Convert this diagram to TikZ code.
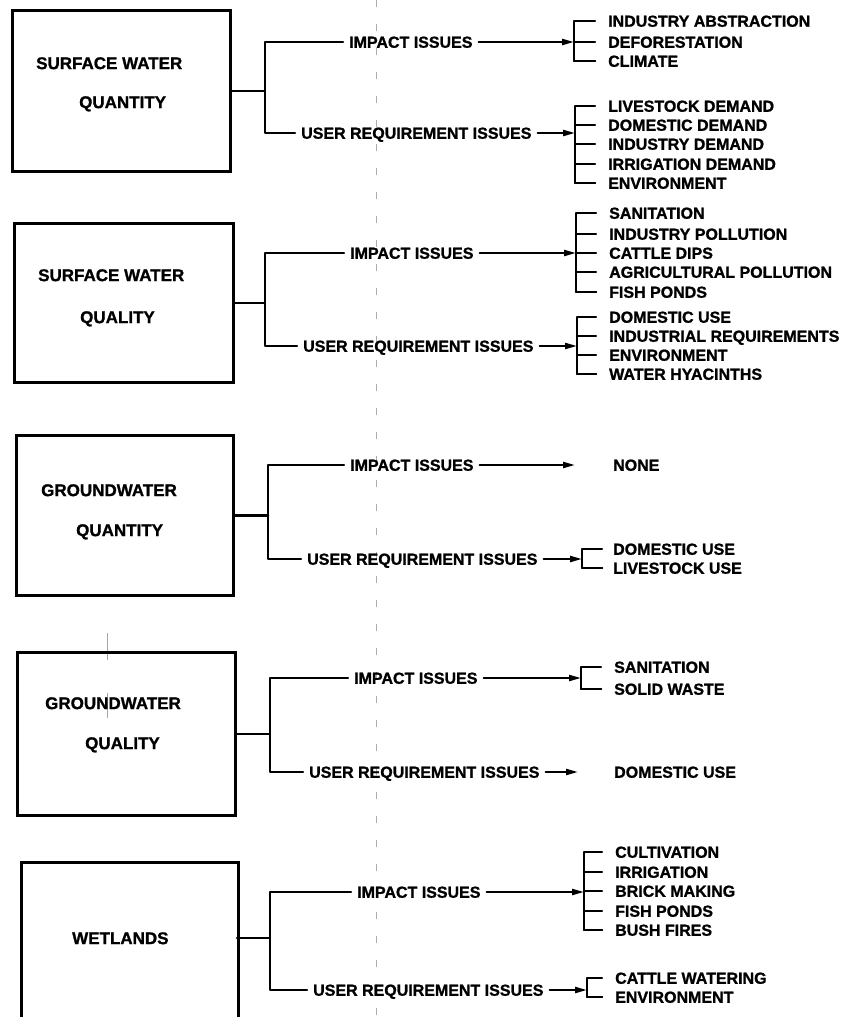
\documentclass[tikz,border=0pt]{standalone}
\usepackage{fontspec}
\setmainfont{Liberation Sans}[BoldFeatures={FakeBold=1.2}]
\usetikzlibrary{arrows.meta}

% spine of an item list: ticks from the spine to every item
\newcommand\itemspine[3]{% #1 item prefix, #2 number of items, #3 spine coordinate
  \draw[conn] (#11.west) -- (#3 |- #11.west) -- (#3 |- #1#2.west) -- (#1#2.west);
  \foreach \k in {2,...,#2} {\draw[conn] (#3 |- #1\k.west) -- (#1\k.west);}
}

\begin{document}
\begin{tikzpicture}[x=1pt,y=-1pt,
  conn/.style={line width=2.2pt, line cap=round, line join=round},
  arr/.style={conn, -{Triangle[length=12pt,width=6pt]}},
  topicbox/.style={draw, line width=3.1pt, inner sep=0pt, anchor=north west},
  boxtext/.style={font=\bfseries\fontsize{17}{17}\selectfont, anchor=west, inner sep=0pt,
                  text height=12.2pt, text depth=0pt},
  branch/.style={font=\bfseries\fontsize{16}{16}\selectfont, anchor=west, inner xsep=6pt,
                 inner ysep=0pt, text height=11.5pt, text depth=0pt},
  issue/.style={font=\bfseries\fontsize{16}{16}\selectfont, anchor=west, inner xsep=13pt,
                inner ysep=0pt, text height=11.5pt, text depth=0pt},
  fold/.style={gray!65, line width=0.9pt, dash pattern=on 7pt off 17pt}]

\useasboundingbox (0,0) rectangle (844,1017);

% fold line of the sheet
\draw[fold] (376,0) -- (376,1017);
\draw[gray!70, line width=0.7pt] (107,633) -- (107,660) (107,693) -- (107,718);

% ---------------- surface water quantity ----------------
\node[topicbox, minimum width=218pt, minimum height=161pt] (b1) at (11,9) {};
\node[boxtext] (b1a) at (36,63) {SURFACE WATER};
\node[boxtext] (b1b) at (79,102) {QUANTITY};
\draw[conn] (b1.east) -- ++(33,0) coordinate (j1);
\node[branch] (imp1) at (343,42) {IMPACT ISSUES};
\node[branch] (usr1) at (295,133) {USER REQUIREMENT ISSUES};
\draw[conn] (imp1.west) -| (j1) |- (usr1.west);

\coordinate (s1a) at (574,0);
\foreach \yy/\tx [count=\i] in {21/INDUSTRY ABSTRACTION,42/DEFORESTATION,61/CLIMATE}
  \node[issue] (p1\i) at (595,\yy) {\tx};
\itemspine{p1}{3}{s1a}
\draw[arr] (imp1.east) -- (s1a |- imp1.east);

\coordinate (s1b) at (575,0);
\foreach \yy/\tx [count=\i] in {106/LIVESTOCK DEMAND,125/DOMESTIC DEMAND,144/INDUSTRY DEMAND,164/IRRIGATION DEMAND,183/ENVIRONMENT}
  \node[issue] (q1\i) at (595,\yy) {\tx};
\itemspine{q1}{5}{s1b}
\draw[arr] (usr1.east) -- (s1b |- usr1.east);

% ---------------- surface water quality ----------------
\node[topicbox, minimum width=219pt, minimum height=159pt] (b2) at (13,222) {};
\node[boxtext] (b2a) at (38,275) {SURFACE WATER};
\node[boxtext] (b2b) at (80,317) {QUALITY};
\draw[conn] (b2.east) -- ++(30,0) coordinate (j2);
\node[branch] (imp2) at (344,253) {IMPACT ISSUES};
\node[branch] (usr2) at (297,346) {USER REQUIREMENT ISSUES};
\draw[conn] (imp2.west) -| (j2) |- (usr2.west);

\coordinate (s2a) at (576,0);
\foreach \yy/\tx [count=\i] in {213/SANITATION,234/INDUSTRY POLLUTION,253/CATTLE DIPS,272/AGRICULTURAL POLLUTION,292/FISH PONDS}
  \node[issue] (p2\i) at (596,\yy) {\tx};
\itemspine{p2}{5}{s2a}
\draw[arr] (imp2.east) -- (s2a |- imp2.east);

\coordinate (s2b) at (577,0);
\foreach \yy/\tx [count=\i] in {317/DOMESTIC USE,336/INDUSTRIAL REQUIREMENTS,355/ENVIRONMENT,374/WATER HYACINTHS}
  \node[issue] (q2\i) at (596,\yy) {\tx};
\itemspine{q2}{4}{s2b}
\draw[arr] (usr2.east) -- (s2b |- usr2.east);

% ---------------- groundwater quantity ----------------
\node[topicbox, minimum width=217pt, minimum height=160pt] (b3) at (15,434) {};
\node[boxtext] (b3a) at (41,490) {GROUNDWATER};
\node[boxtext] (b3b) at (76,530) {QUANTITY};
\draw[conn] (b3.east) -- ++(33,0) coordinate (j3);
\node[branch] (imp3) at (344,465) {IMPACT ISSUES};
\node[branch] (usr3) at (301,559) {USER REQUIREMENT ISSUES};
\draw[conn] (imp3.west) -| (j3) |- (usr3.west);

\coordinate (s3a) at (575,0);
\node[issue, inner xsep=0pt] (p31) at (613,465) {NONE};
\draw[arr] (imp3.east) -- (s3a |- imp3.east);

\coordinate (s3b) at (582,0);
\foreach \yy/\tx [count=\i] in {549/DOMESTIC USE,568/LIVESTOCK USE}
  \node[issue, inner xsep=11pt] (q3\i) at (602,\yy) {\tx};
\itemspine{q3}{2}{s3b}
\draw[arr] (usr3.east) -- (s3b |- usr3.east);

% ---------------- groundwater quality ----------------
\node[topicbox, minimum width=218pt, minimum height=163pt] (b4) at (16,651) {};
\node[boxtext] (b4a) at (45,703) {GROUNDWATER};
\node[boxtext] (b4b) at (85,743) {QUALITY};
\draw[conn] (b4.east) -- ++(33,0) coordinate (j4);
\node[branch] (imp4) at (348,678) {IMPACT ISSUES};
\node[branch] (usr4) at (303,772) {USER REQUIREMENT ISSUES};
\draw[conn] (imp4.west) -| (j4) |- (usr4.west);

\coordinate (s4a) at (581,0);
\foreach \yy/\tx [count=\i] in {667/SANITATION,689/SOLID WASTE}
  \node[issue] (p4\i) at (601,\yy) {\tx};
\itemspine{p4}{2}{s4a}
\draw[arr] (imp4.east) -- (s4a |- imp4.east);

\coordinate (s4b) at (578,0);
\node[issue, inner xsep=0pt] (q41) at (614,772) {DOMESTIC USE};
\draw[arr] (usr4.east) -- (s4b |- usr4.east);

% ---------------- wetlands ----------------
\begin{scope}
\clip (0,0) rectangle (844,1017);
\node[topicbox, minimum width=217pt, minimum height=190pt] (b5) at (20,861) {};
\end{scope}
\node[boxtext] (b5a) at (72,938) {WETLANDS};
\coordinate (b5e) at (237,938);
\draw[conn] (b5e) -- ++(33,0) coordinate (j5);
\node[branch] (imp5) at (351,892) {IMPACT ISSUES};
\node[branch] (usr5) at (307,990) {USER REQUIREMENT ISSUES};
\draw[conn] (imp5.west) -| (j5) |- (usr5.west);

\coordinate (s5a) at (584,0);
\foreach \yy/\tx [count=\i] in {852/CULTIVATION,872/IRRIGATION,891/BRICK MAKING,911/FISH PONDS,930/BUSH FIRES}
  \node[issue] (p5\i) at (602,\yy) {\tx};
\itemspine{p5}{5}{s5a}
\draw[arr] (imp5.east) -- (s5a |- imp5.east);

\coordinate (s5b) at (587,0);
\foreach \yy/\tx [count=\i] in {978/CATTLE WATERING,997/ENVIRONMENT}
  \node[issue] (q5\i) at (602,\yy) {\tx};
\itemspine{q5}{2}{s5b}
\draw[arr] (usr5.east) -- (s5b |- usr5.east);

\end{tikzpicture}
\end{document}
